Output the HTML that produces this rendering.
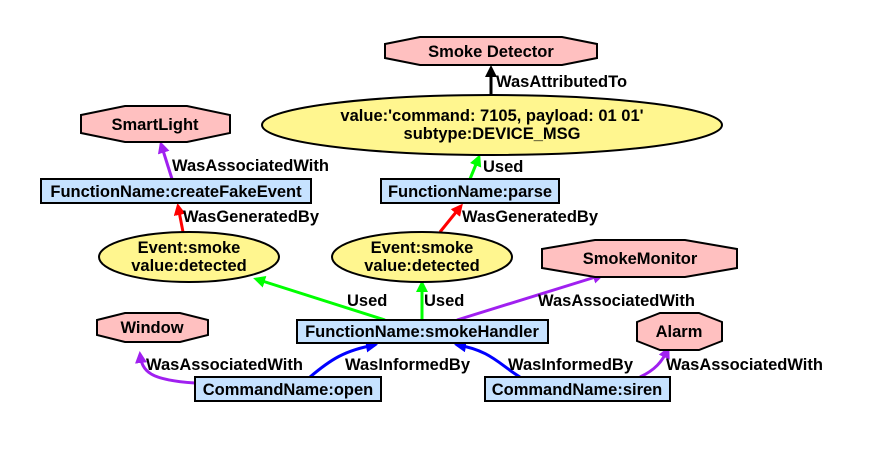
<!DOCTYPE html>
<html><head><meta charset="utf-8"><style>
html,body{margin:0;padding:0;background:#fff}
svg text{font-family:"Liberation Sans",Arial,sans-serif;font-weight:bold;font-size:16.5px;fill:#000}
</style></head><body>
<svg width="890" height="451" viewBox="0 0 890 451" xmlns="http://www.w3.org/2000/svg">
<defs>
<marker id="ak" markerWidth="12" markerHeight="12" refX="9" refY="6" orient="auto" markerUnits="userSpaceOnUse"><path d="M0,0 L12,6 L0,12 z" fill="#000"/></marker>
<marker id="ar" markerWidth="12" markerHeight="12" refX="9" refY="6" orient="auto" markerUnits="userSpaceOnUse"><path d="M0,0 L12,6 L0,12 z" fill="#f00"/></marker>
<marker id="ag" markerWidth="12" markerHeight="12" refX="9" refY="6" orient="auto" markerUnits="userSpaceOnUse"><path d="M0,0 L12,6 L0,12 z" fill="#0f0"/></marker>
<marker id="ap" markerWidth="12" markerHeight="12" refX="9" refY="6" orient="auto" markerUnits="userSpaceOnUse"><path d="M0,0 L12,6 L0,12 z" fill="#a020f0"/></marker>
<marker id="ab" markerWidth="12" markerHeight="12" refX="9" refY="6" orient="auto" markerUnits="userSpaceOnUse"><path d="M0,0 L12,6 L0,12 z" fill="#00f"/></marker>
</defs>
<g stroke-width="3" fill="none">
<path d="M491,95 L491,68" stroke="#000" marker-end="url(#ak)"/>
<path d="M172,179 L161,144" stroke="#a020f0" marker-end="url(#ap)"/>
<path d="M183,232 L178,206" stroke="#f00" marker-end="url(#ar)"/>
<path d="M440,232 L461,206" stroke="#f00" marker-end="url(#ar)"/>
<path d="M470,179 L479,157" stroke="#0f0" marker-end="url(#ag)"/>
<path d="M385,320 L256,279" stroke="#0f0" marker-end="url(#ag)"/>
<path d="M422,320 L422,283" stroke="#0f0" marker-end="url(#ag)"/>
<path d="M457,320 L602,275" stroke="#a020f0" marker-end="url(#ap)"/>
<path d="M195,383 C150,380 142,372 140,354" stroke="#a020f0" marker-end="url(#ap)"/>
<path d="M310,377 C330,360 345,350 375,345" stroke="#00f" marker-end="url(#ab)"/>
<path d="M520,377 C500,365 490,350 457,345" stroke="#00f" marker-end="url(#ab)"/>
<path d="M640,377 C655,370 662,362 668,349" stroke="#a020f0" marker-end="url(#ap)"/>
</g>
<g stroke="#000" stroke-width="2">
<polygon points="385,44 420,37 562,37 597,44 597,58 562,65 420,65 385,58" fill="#ffc0c0"/>
<polygon points="81,115 125,106 187,106 230,115 230,133 187,142 125,142 81,133" fill="#ffc0c0"/>
<polygon points="542,249 595,240 685,240 737,249 737,268 685,277 595,277 542,268" fill="#ffc0c0"/>
<polygon points="97,320 125,313 180,313 208,320 208,335 180,342 125,342 97,335" fill="#ffc0c0"/>
<polygon points="637,322 660,313 699,313 722,322 722,341 699,350 660,350 637,341" fill="#ffc0c0"/>
<ellipse cx="492" cy="125" rx="230" ry="30" fill="#fff68f"/>
<ellipse cx="189" cy="257" rx="90" ry="25" fill="#fff68f"/>
<ellipse cx="422" cy="257" rx="90" ry="25" fill="#fff68f"/>
<rect x="41" y="179" width="270" height="24" fill="#c6e2ff"/>
<rect x="381" y="179" width="178" height="24" fill="#c6e2ff"/>
<rect x="297" y="320" width="251" height="23" fill="#c6e2ff"/>
<rect x="195" y="377" width="186" height="24" fill="#c6e2ff"/>
<rect x="485" y="377" width="185" height="24" fill="#c6e2ff"/>
</g>
<g text-anchor="middle">
<text x="491" y="57">Smoke Detector</text>
<text x="155" y="130">SmartLight</text>
<text x="640" y="264">SmokeMonitor</text>
<text x="152" y="333">Window</text>
<text x="679" y="337">Alarm</text>
<text x="492" y="121">value:'command: 7105, payload: 01 01'</text>
<text x="492" y="139">subtype:DEVICE_MSG</text>
<text x="189" y="253">Event:smoke</text>
<text x="189" y="271">value:detected</text>
<text x="422" y="253">Event:smoke</text>
<text x="422" y="271">value:detected</text>
<text x="176" y="197">FunctionName:createFakeEvent</text>
<text x="470" y="197">FunctionName:parse</text>
<text x="422" y="337">FunctionName:smokeHandler</text>
<text x="288" y="395">CommandName:open</text>
<text x="577" y="395">CommandName:siren</text>
</g>
<text x="496" y="87">WasAttributedTo</text>
<text x="172" y="171">WasAssociatedWith</text>
<text x="183" y="222">WasGeneratedBy</text>
<text x="462" y="222">WasGeneratedBy</text>
<text x="483" y="172">Used</text>
<text x="347" y="306">Used</text>
<text x="424" y="306">Used</text>
<text x="538" y="306">WasAssociatedWith</text>
<text x="146" y="370">WasAssociatedWith</text>
<text x="345" y="370">WasInformedBy</text>
<text x="508" y="370">WasInformedBy</text>
<text x="666" y="370">WasAssociatedWith</text>
</svg>
</body></html>
